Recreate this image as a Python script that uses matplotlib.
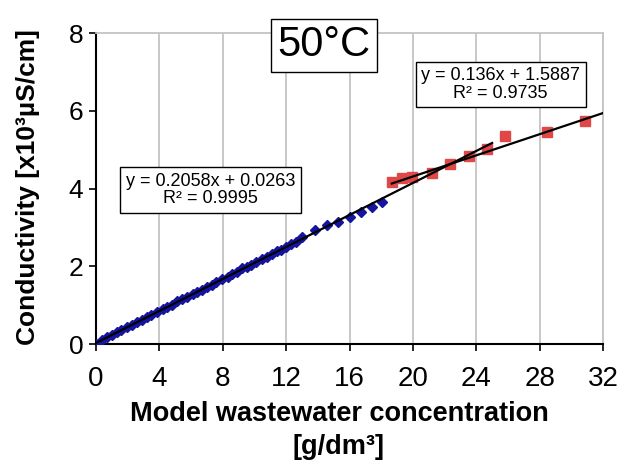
import matplotlib.pyplot as plt
import numpy as np

plt.rcParams["font.family"] = ["Liberation Sans", "DejaVu Sans"]

# ---------------------------------------------------------------------------
# Data
# ---------------------------------------------------------------------------
low_x = [0.0, 0.35, 0.7, 1.0, 1.3, 1.6, 1.95, 2.3, 2.6, 2.9, 3.2, 3.5, 3.85,
         4.2, 4.5, 4.8, 5.1, 5.4, 5.75, 6.1, 6.4, 6.7, 7.0, 7.3, 7.6, 7.95,
         8.3, 8.6, 8.9, 9.2, 9.5, 9.8, 10.1, 10.45, 10.8, 11.1, 11.4, 11.7,
         12.0, 12.3, 12.6, 13.0, 13.85, 14.55, 15.3, 16.0, 16.7, 17.4, 18.05]
low_y = [0.00, 0.10, 0.17, 0.23, 0.30, 0.36, 0.43, 0.50, 0.56, 0.62, 0.69,
         0.74, 0.82, 0.89, 0.95, 1.01, 1.10, 1.15, 1.21, 1.28, 1.35, 1.40,
         1.46, 1.52, 1.59, 1.66, 1.73, 1.79, 1.86, 1.95, 1.98, 2.04, 2.10,
         2.18, 2.25, 2.31, 2.38, 2.43, 2.50, 2.56, 2.63, 2.76, 2.93, 3.06,
         3.14, 3.27, 3.40, 3.53, 3.66]

high_x = [18.67, 19.3, 19.93, 21.19, 22.35, 23.57, 24.7, 25.82, 28.45, 30.87]
high_y = [4.16, 4.26, 4.30, 4.39, 4.62, 4.83, 5.01, 5.35, 5.46, 5.73]

# trendlines as printed on the chart
fit_low = (0.2058, 0.0263)
fit_high = (0.136, 1.5887)
fit_low_range = [0.0, 25.0]
fit_high_range = [18.67, 32.0]

eq_low = "y = 0.2058x + 0.0263\nR² = 0.9995"
eq_high = "y = 0.136x + 1.5887\nR² = 0.9735"

# ---------------------------------------------------------------------------
# Plot
# ---------------------------------------------------------------------------
fig = plt.figure(figsize=(6.25, 4.63), dpi=100)
ax = fig.add_axes([0.1536, 0.257, 0.8112, 0.6717])

for xv in range(4, 33, 4):
    ax.axvline(xv, color="#c4c4c4", linewidth=1.3, zorder=0)

ax.plot(low_x, low_y, linestyle="none", marker="D", markersize=4.6,
        color="#14149e", zorder=3)
ax.plot(high_x, high_y, linestyle="none", marker="s", markersize=7.6,
        color="#e04848", zorder=3)

xl = np.array(fit_low_range)
ax.plot(xl, fit_low[0] * xl + fit_low[1], color="black", linewidth=1.6, zorder=4)
xh = np.array(fit_high_range)
ax.plot(xh, fit_high[0] * xh + fit_high[1], color="black", linewidth=1.6, zorder=4)

box = dict(boxstyle="square,pad=0.3", facecolor="white", edgecolor="black",
           linewidth=1.0)
ax.text(7.23, 3.96, eq_low, ha="center", va="center", fontsize=13,
        linespacing=1.05, bbox=box, zorder=5)
ax.text(25.54, 6.68, eq_high, ha="center", va="center", fontsize=13,
        linespacing=1.05, bbox=box, zorder=5)

fig.text(0.518, 0.902, "50°C", ha="center", va="center", fontsize=30,
         bbox=dict(boxstyle="square,pad=0.15", facecolor="white",
                   edgecolor="black", linewidth=1.0))

ax.set_xlim(0, 32)
ax.set_ylim(0, 8)
ax.set_xticks(range(0, 33, 4))
ax.set_yticks(range(0, 9, 2))
ax.tick_params(length=5, width=1.2)
ax.tick_params(axis="x", labelsize=20, pad=11)
ax.tick_params(axis="y", labelsize=19, pad=4)

for side in ("left", "bottom"):
    ax.spines[side].set_linewidth(1.5)
    ax.spines[side].set_color("black")
for side in ("top", "right"):
    ax.spines[side].set_linewidth(1.3)
    ax.spines[side].set_color("#c4c4c4")

# axis titles
fig.text(0.543, 0.106, "Model wastewater concentration", ha="center",
         va="center", fontsize=19.5, fontweight="bold")
fig.text(0.541, 0.034, "[g/dm³]", ha="center", va="center", fontsize=19.5,
         fontweight="bold")
fig.text(0.045, 0.597, "Conductivity [x10³µS/cm]", ha="center", va="center",
         rotation=90, fontsize=19, fontweight="bold")

fig.savefig("out.png", dpi=100)
